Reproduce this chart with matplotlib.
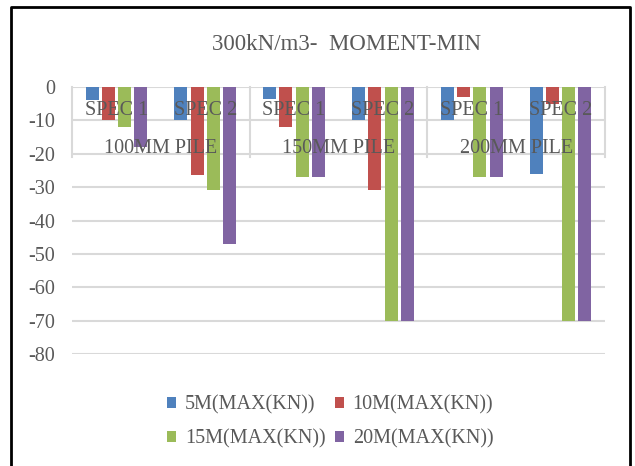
import matplotlib.pyplot as plt
from matplotlib.patches import Patch
from matplotlib.lines import Line2D

# ---- data ----
piles = ['100MM PILE', '150MM PILE', '200MM PILE']
specs = ['SPEC 1', 'SPEC 2']
series = ['5M(MAX(KN))', '10M(MAX(KN))', '15M(MAX(KN))', '20M(MAX(KN))']
m5 = [-4, -10, -3.5, -10, -10, -26]
m10 = [-10, -26.5, -12, -31, -3, -5]
m15 = [-12, -31, -27, -70, -27, -70]
m20 = [-18, -47, -27, -70, -27, -70]
yticks = [0, -10, -20, -30, -40, -50, -60, -70, -80]

colors = ['#4F81BD', '#C0504D', '#9BBB59', '#8064A2']
txt = '#595959'
grid = '#D9D9D9'
fs = 14.5
plt.rcParams['font.family'] = ['Liberation Serif', 'DejaVu Serif']

W, H = 635, 466
fig = plt.figure(figsize=(W / 100, H / 100), dpi=100)
ax = fig.add_axes([72 / W, 1 - 354 / H, (605 - 72) / W, (354 - 87) / H])

n = len(piles) * len(specs)
x = list(range(n))
width = 0.146
step = 0.183
for i, vals in enumerate([m5, m10, m15, m20]):
    off = (i - 1.5) * step
    ax.bar([xi + off for xi in x], vals, width, color=colors[i], zorder=3)

ax.set_xlim(-0.5, n - 0.5)
ax.set_ylim(-80, 0)
ax.set_yticks(yticks)
ax.set_yticklabels([str(v) for v in yticks])
ax.tick_params(axis='y', length=0, labelsize=fs, labelcolor=txt, pad=12)
ax.set_xticks([])
for s in ax.spines.values():
    s.set_visible(False)
for v in yticks:
    ax.axhline(v, color=grid, lw=1.5, zorder=1)

# multi-level category axis at the top
for b in [-0.5, 1.5, 3.5, 5.5]:
    ax.plot([b, b], [0, -21], color=grid, lw=1.5, zorder=1, clip_on=False)
for i in range(n):
    ax.text(i, -7, specs[i % 2], ha='center', va='center', fontsize=fs,
            color=txt, zorder=4)
for j, p in enumerate(piles):
    ax.text(2 * j + 0.5, -18.4, p, ha='center', va='center', fontsize=fs,
            color=txt, zorder=4)

fig.text(347 / W, 1 - 45 / H, '300kN/m3-  MOMENT-MIN', ha='center',
         va='center', fontsize=16.5, color=txt)

# legend fills row by row like the original
order = [0, 2, 1, 3]
handles = [Patch(facecolor=colors[k]) for k in order]
labels = [series[k] for k in order]
fig.legend(handles, labels, ncol=2, loc='center',
           bbox_to_anchor=(330 / W, 1 - 422 / H), frameon=False,
           fontsize=fs, labelcolor=txt, handlelength=0.45, handleheight=0.45,
           handletextpad=0.45, columnspacing=0.45, labelspacing=0.7)

# outer frame (open at the bottom)
fig.add_artist(Line2D([11 / W, 11 / W, 630 / W, 630 / W],
                      [0, 1 - 7 / H, 1 - 7 / H, 0],
                      transform=fig.transFigure, color='black', lw=2))

fig.savefig('out.png', dpi=100)
